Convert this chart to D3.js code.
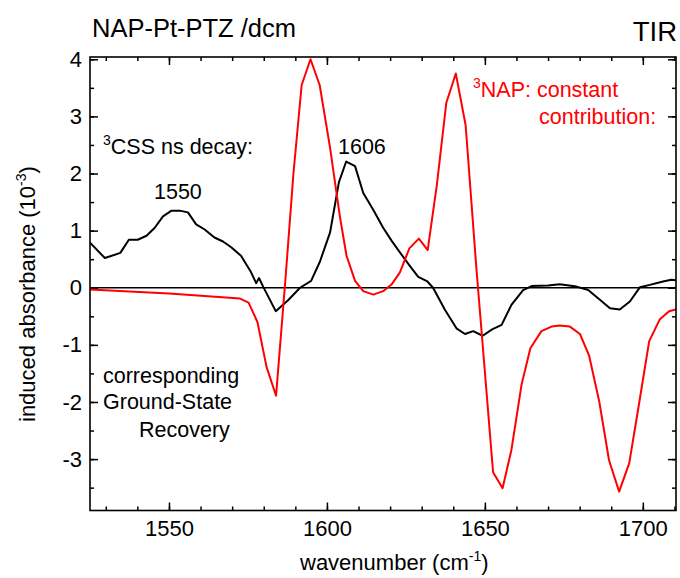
<!DOCTYPE html>
<html>
<head>
<meta charset="utf-8">
<script src="https://cdn.jsdelivr.net/npm/d3@7"></script>
<style>
  html, body { margin: 0; padding: 0; background: #fff; }
  svg { display: block; }
  text { font-family: "Liberation Sans", Arial, Helvetica, sans-serif; fill: #000; }
</style>
</head>
<body>
<svg id="chart" width="680" height="578"></svg>
<script>
// Transient IR spectrum of NAP-Pt-PTZ in dcm (TIR)
// 3CSS ns-decay component (black) and constant 3NAP contribution (red)
const cssWavenumber = [1525.0, 1529.7, 1534.6, 1537.3, 1540.1, 1542.9, 1545.5, 1548.1, 1550.8, 1553.4,
  1556.0, 1558.6, 1561.3, 1564.4, 1567.1, 1569.7, 1572.8, 1576.0, 1577.6, 1578.5,
  1579.8, 1583.8, 1587.7, 1591.5, 1595.0, 1597.8, 1601.0, 1603.8, 1606.1, 1608.9,
  1611.5, 1614.7, 1617.8, 1620.5, 1623.1, 1626.0, 1628.9, 1631.8, 1633.6, 1637.3,
  1641.0, 1643.7, 1646.3, 1649.3, 1652.3, 1655.3, 1658.4, 1662.1, 1664.8, 1670.0,
  1673.7, 1679.0, 1682.7, 1686.4, 1689.6, 1692.7, 1695.9, 1699.1, 1702.2, 1706.4,
  1709.0, 1710.5];
const cssAbsorbance = [0.79, 0.52, 0.61, 0.84, 0.84, 0.91, 1.05, 1.25, 1.35, 1.35,
  1.32, 1.11, 1.02, 0.88, 0.81, 0.71, 0.56, 0.27, 0.08, 0.17,
  0.02, -0.41, -0.22, 0.00, 0.12, 0.46, 0.97, 1.85, 2.21, 2.13,
  1.66, 1.36, 1.05, 0.82, 0.62, 0.40, 0.19, 0.11, 0.00, -0.38,
  -0.71, -0.81, -0.76, -0.84, -0.73, -0.65, -0.30, -0.04, 0.03, 0.04,
  0.06, 0.02, -0.04, -0.21, -0.36, -0.38, -0.24, 0.01, 0.05, 0.11,
  0.14, 0.13];

const napWavenumber = [1525.0, 1550.0, 1572.5, 1575.2, 1578.0, 1580.9, 1583.9, 1586.8, 1589.4, 1592.0,
  1594.8, 1597.7, 1601.0, 1604.1, 1606.2, 1608.9, 1611.5, 1614.7, 1617.8, 1620.5,
  1623.1, 1626.1, 1629.1, 1631.9, 1634.8, 1637.8, 1640.8, 1643.9, 1647.3, 1652.6,
  1655.6, 1658.4, 1661.6, 1664.4, 1667.9, 1671.1, 1673.7, 1676.9, 1680.1, 1683.0,
  1686.2, 1689.3, 1692.5, 1695.7, 1699.1, 1702.0, 1705.4, 1708.3, 1710.5];
const napAbsorbance = [-0.03, -0.10, -0.19, -0.26, -0.60, -1.39, -1.89, 0.10, 2.00, 3.55,
  4.00, 3.55, 2.45, 1.25, 0.56, 0.12, -0.06, -0.12, -0.06, 0.06,
  0.27, 0.69, 0.86, 0.66, 1.80, 3.24, 3.75, 2.85, 0.35, -3.23,
  -3.51, -2.84, -1.70, -1.06, -0.76, -0.68, -0.66, -0.68, -0.81, -1.19,
  -1.99, -3.02, -3.57, -3.07, -1.93, -0.94, -0.55, -0.41, -0.38];

const xMajorTicks = [1550, 1600, 1650, 1700];
const xMinorTicks = d3.range(1530, 1711, 10);
const yMajorTicks = [-3, -2, -1, 0, 1, 2, 3, 4];
const yMinorTicks = d3.range(-3.5, 4.01, 0.5);

const svg = d3.select("#chart");
const plot = { left: 90, top: 57, right: 676, bottom: 510.5 };

const x = d3.scaleLinear().domain([1525, 1710.5]).range([plot.left, plot.right]);
const y = d3.scaleLinear().domain([-3.9, 4.04]).range([plot.bottom, plot.top]);

const fmt = d => d3.format("")(d).replace("\u2212", "-");

// axes: ticks point inward on all four sides
function drawAxis(axisFn, scale, ticks, size, withLabels, translate) {
  const a = axisFn(scale).tickValues(ticks).tickSizeInner(-size).tickSizeOuter(0);
  if (withLabels) a.tickFormat(fmt).tickPadding(withLabels); else a.tickFormat("");
  const g = svg.append("g").attr("transform", translate).call(a);
  g.select(".domain").remove();
  g.selectAll(".tick line").attr("stroke", "#000").attr("stroke-width", 1.5);
  g.selectAll(".tick text").attr("font-size", 22).attr("fill", "#000")
    .style("font-family", '"Liberation Sans", Arial, sans-serif');
  return g;
}
drawAxis(d3.axisBottom, x, xMinorTicks, 4, 0, `translate(0,${plot.bottom})`);
drawAxis(d3.axisBottom, x, xMajorTicks, 8, 10, `translate(0,${plot.bottom})`);
drawAxis(d3.axisTop, x, xMinorTicks, 4, 0, `translate(0,${plot.top})`);
drawAxis(d3.axisTop, x, xMajorTicks, 8, 0, `translate(0,${plot.top})`);
drawAxis(d3.axisLeft, y, yMinorTicks, 4, 0, `translate(${plot.left},0)`);
drawAxis(d3.axisLeft, y, yMajorTicks, 8, 8, `translate(${plot.left},0)`);
drawAxis(d3.axisRight, y, yMinorTicks, 4, 0, `translate(${plot.right},0)`);
drawAxis(d3.axisRight, y, yMajorTicks, 8, 0, `translate(${plot.right},0)`);

// zero line
svg.append("line")
  .attr("x1", plot.left).attr("x2", plot.right)
  .attr("y1", y(0)).attr("y2", y(0))
  .attr("stroke", "#000").attr("stroke-width", 1.6);

svg.append("clipPath").attr("id", "plotclip").append("rect")
  .attr("x", plot.left).attr("y", plot.top)
  .attr("width", plot.right - plot.left).attr("height", plot.bottom - plot.top);

const line = d3.line().x(d => x(d[0])).y(d => y(d[1]));

svg.append("path")
  .datum(d3.zip(cssWavenumber, cssAbsorbance))
  .attr("d", line).attr("fill", "none")
  .attr("stroke", "#000").attr("stroke-width", 2)
  .attr("stroke-linejoin", "round")
  .attr("clip-path", "url(#plotclip)");

svg.append("path")
  .datum(d3.zip(napWavenumber, napAbsorbance))
  .attr("d", line).attr("fill", "none")
  .attr("stroke", "#ff0000").attr("stroke-width", 2)
  .attr("stroke-linejoin", "round")
  .attr("clip-path", "url(#plotclip)");

// frame
svg.append("rect")
  .attr("x", plot.left).attr("y", plot.top)
  .attr("width", plot.right - plot.left).attr("height", plot.bottom - plot.top)
  .attr("fill", "none").attr("stroke", "#000").attr("stroke-width", 1.6);

// titles
svg.append("text").attr("x", 92).attr("y", 37).attr("font-size", 25.5)
  .text("NAP-Pt-PTZ /dcm");
svg.append("text").attr("x", 677).attr("y", 41).attr("font-size", 27.5)
  .attr("text-anchor", "end").text("TIR");

// axis titles
const xt = svg.append("text").attr("x", 300).attr("y", 570).attr("font-size", 22);
xt.append("tspan").text("wavenumber (cm");
xt.append("tspan").attr("font-size", 14).attr("dy", -9).text("-1");
xt.append("tspan").attr("dy", 9).text(")");

const yt = svg.append("text").attr("transform", "translate(35,422) rotate(-90)")
  .attr("font-size", 22);
yt.append("tspan").text("induced absorbance (10");
yt.append("tspan").attr("font-size", 14).attr("dy", -9).text("-3");
yt.append("tspan").attr("dy", 9).text(")");

// annotations
const css = svg.append("text").attr("x", 103).attr("y", 154).attr("font-size", 21.5);
css.append("tspan").attr("font-size", 14).attr("dy", -9).text("3");
css.append("tspan").attr("dy", 9).text("CSS ns decay:");
svg.append("text").attr("x", 154).attr("y", 199).attr("font-size", 21.5).text("1550");
svg.append("text").attr("x", 338).attr("y", 154).attr("font-size", 21.5).text("1606");

const nap = svg.append("text").attr("x", 473).attr("y", 97).attr("font-size", 21.5)
  .style("fill", "#ff0000");
nap.append("tspan").attr("font-size", 14).attr("dy", -9).text("3");
nap.append("tspan").attr("dy", 9).text("NAP: constant");
svg.append("text").attr("x", 539).attr("y", 124).attr("font-size", 21.5)
  .style("fill", "#ff0000").text("contribution:");

svg.append("text").attr("x", 103).attr("y", 383).attr("font-size", 21.5).text("corresponding");
svg.append("text").attr("x", 103).attr("y", 409).attr("font-size", 21.5).text("Ground-State");
svg.append("text").attr("x", 139).attr("y", 437).attr("font-size", 21.5).text("Recovery");
</script>
</body>
</html>
